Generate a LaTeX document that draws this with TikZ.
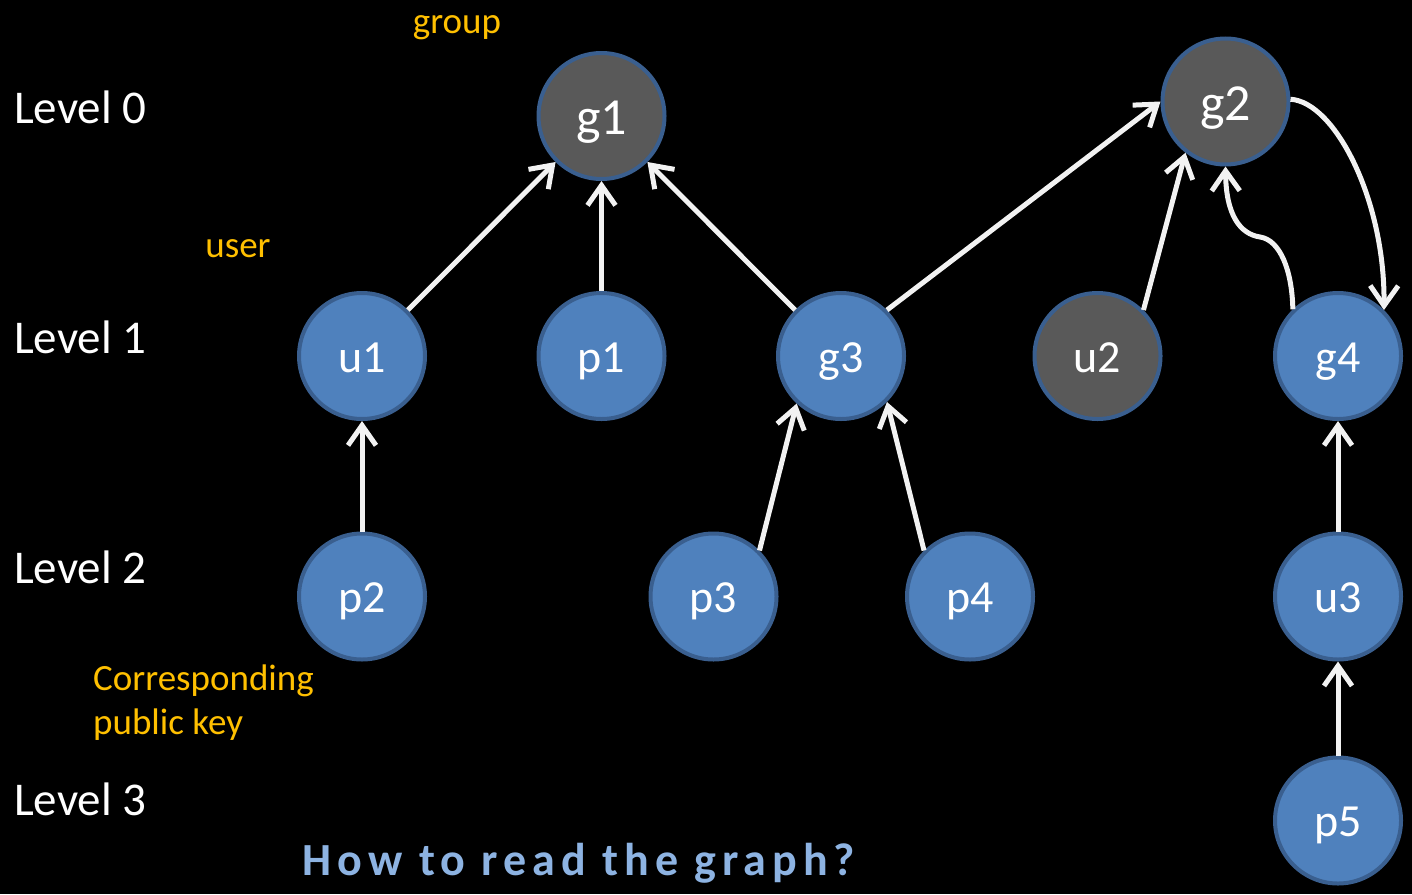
\documentclass[tikz,border=0pt]{standalone}
\usepackage{fontspec}
\setmainfont{Carlito}
\newfontfamily\titlefont[LetterSpace=13]{Carlito}
\usetikzlibrary{arrows.meta}
\definecolor{nodeblue}{HTML}{4F81BD}
\definecolor{nodeedge}{HTML}{3A5F8F}
\definecolor{nodegray}{HTML}{595959}
\definecolor{lblorange}{HTML}{FFC000}
\definecolor{titleblue}{HTML}{8DB3E2}
\definecolor{arrowwhite}{HTML}{F2F2F2}
\tikzset{
  vertex/.style={circle, draw=nodeedge, line width=4pt, fill=nodeblue, minimum size=126pt, inner sep=0pt, text=white, font=\fontsize{46}{54}\selectfont, text height=34pt, text depth=2pt},
  grayvertex/.style={vertex, fill=nodegray},
  bigtext/.style={font=\fontsize{52}{60}\selectfont, text height=38pt, text depth=1pt},
  levellbl/.style={anchor=west, text=white, font=\fontsize{47}{54}\selectfont, inner sep=0pt, text height=32pt, text depth=2pt},
  notelbl/.style={text=lblorange, font=\fontsize{37}{44}\selectfont, inner sep=0pt},
  link/.style={draw=arrowwhite, line width=5pt, -{Straight Barb[length=20pt,width=28pt]}}
}
\begin{document}
\begin{tikzpicture}[x=1pt,y=-1pt]
\fill[black] (0,0) rectangle (1412,894);
\useasboundingbox (0,0) rectangle (1412,894);
% level labels
\node[levellbl] (l0) at (14,108) {Level 0};
\node[levellbl] (l1) at (14,338) {Level 1};
\node[levellbl] (l2) at (14,568) {Level 2};
\node[levellbl] (l3) at (14,800) {Level 3};
% notes
\node[notelbl, text height=24pt, text depth=8pt] (ngroup) at (457,25) {group};
\node[notelbl, text height=24pt, text depth=0pt] (nuser) at (238,245) {user};
\node[notelbl, anchor=west, align=left] (nkey) at (93,703) {Corresponding\\public key};
% nodes
\node[grayvertex, bigtext] (g1) at (601.5,116) {g1};
\node[grayvertex, bigtext] (g2) at (1225.5,101.5) {g2};
\node[vertex] (u1) at (362,356) {u1};
\node[vertex] (p1) at (601.5,356) {p1};
\node[vertex] (g3) at (841,356) {g3};
\node[grayvertex] (u2) at (1097.5,356) {u2};
\node[vertex] (g4) at (1338,356) {g4};
\node[vertex] (p2) at (362,596.5) {p2};
\node[vertex] (p3) at (713.5,596.5) {p3};
\node[vertex] (p4) at (970,596.5) {p4};
\node[vertex] (u3) at (1338,596.5) {u3};
\node[vertex] (p5) at (1338,820.5) {p5};
% edges
\draw[link] (u1) -- (g1);
\draw[link] (p1) -- (g1);
\draw[link] (g3) -- (g1);
\draw[link] (g3.45) -- (g2.180);
\draw[link] (u2.45) -- (g2.232);
\draw[link] (g4.134) .. controls (1292,270) and (1280,240) .. (1260,237) .. controls (1240,234) and (1226,215) .. (g2.270);
\draw[link] (g2.2) .. controls (1335,102) and (1385,200) .. (g4.45);
\draw[link] (p2) -- (u1);
\draw[link] (p3.45) -- (g3.227);
\draw[link] (p4.135) -- (g3.315);
\draw[link] (u3) -- (g4);
\draw[link] (p5) -- (u3);
% title
\node[text=titleblue, font=\titlefont\bfseries\fontsize{46}{54}\selectfont, inner sep=0pt] (title) at (579,863) {How to read the graph?};
\end{tikzpicture}
\end{document}
